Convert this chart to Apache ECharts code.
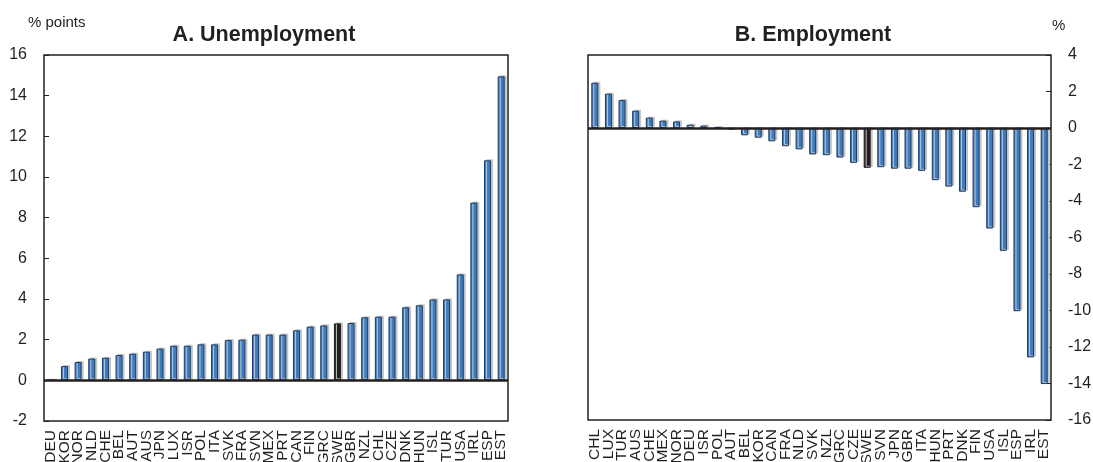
<!DOCTYPE html>
<html>
<head>
<meta charset="utf-8">
<script src="https://cdn.jsdelivr.net/npm/echarts@6/dist/echarts.min.js"></script>
<style>
html,body{margin:0;padding:0;background:#fff;}
#c{width:1093px;height:462px;}
</style>
</head>
<body>
<div id="c"></div>
<script>
const catA = ['DEU','KOR','NOR','NLD','CHE','BEL','AUT','AUS','JPN','LUX','ISR','POL','ITA','SVK','FRA','SVN','MEX','PRT','CAN','FIN','GRC','SWE','GBR','NZL','CHL','CZE','DNK','HUN','ISL','TUR','USA','IRL','ESP','EST'];
const valA = [0, 0.70, 0.90, 1.07, 1.11, 1.25, 1.31, 1.41, 1.56, 1.70, 1.70, 1.77, 1.77, 1.98, 2.00, 2.25, 2.25, 2.25, 2.46, 2.64, 2.70, 2.80, 2.82, 3.10, 3.13, 3.13, 3.59, 3.69, 3.98, 3.98, 5.21, 8.74, 10.82, 14.95];
const catB = ['CHL','LUX','TUR','AUS','CHE','MEX','NOR','DEU','ISR','POL','AUT','BEL','KOR','CAN','FRA','NLD','SVK','NZL','GRC','CZE','SWE','SVN','JPN','GBR','ITA','HUN','PRT','DNK','FIN','USA','ISL','ESP','IRL','EST'];
const valB = [2.48, 1.88, 1.53, 0.95, 0.57, 0.40, 0.36, 0.18, 0.13, 0.02, -0.09, -0.40, -0.53, -0.73, -1.00, -1.17, -1.45, -1.49, -1.62, -1.91, -2.18, -2.15, -2.23, -2.23, -2.35, -2.86, -3.21, -3.49, -4.34, -5.51, -6.73, -10.04, -12.57, -14.03];
const highlight = 'SWE';

const ink = '#231f20';
const blue = '#3b7dc4';
const fontFam = 'Liberation Sans, Arial, sans-serif';

function barData(cats, vals){
  return vals.map((v,i)=> cats[i]===highlight
    ? {value:v, itemStyle:{color:ink, borderColor:ink}}
    : v);
}

function xAx(gi, cats){
  return {
    type:'category', gridIndex:gi, data:cats,
    axisLine:{show:false}, axisTick:{show:false}, splitLine:{show:false},
    axisLabel:{interval:0, rotate:90, fontSize:15.5, color:ink, margin:9, fontFamily:fontFam}
  };
}
function yAx(gi, min, max, pos){
  return {
    type:'value', gridIndex:gi, min:min, max:max, interval:2, position:pos,
    axisLine:{show:false},
    axisTick:{show:true, inside:true, length:5, lineStyle:{color:ink, width:1}},
    splitLine:{show:false},
    axisLabel:{fontSize:16, color:ink, margin:17, fontFamily:fontFam}
  };
}
function barSeries(gi, cats, vals){
  return {
    type:'bar', xAxisIndex:gi, yAxisIndex:gi,
    data:barData(cats, vals), barWidth:7,
    itemStyle:{color:blue, borderColor:'#1f3c60', borderWidth:1,
      shadowColor:'#c4c4c4', shadowOffsetX:2, shadowOffsetY:-1, shadowBlur:0},
    markLine:{silent:true, symbol:['none','none'], label:{show:false},
      lineStyle:{color:ink, width:2.5, type:'solid'}, data:[{yAxis:0}]},
    animation:false
  };
}

const chart = echarts.init(document.getElementById('c'), null, {renderer:'canvas'});
chart.setOption({
  animation:false,
  backgroundColor:'#fff',
  textStyle:{fontFamily:fontFam},
  title:[
    {text:'A. Unemployment', left:259, top:19, textAlign:'center',
     textStyle:{fontSize:21.5, fontWeight:'bold', color:ink, fontFamily:fontFam}},
    {text:'B. Employment', left:808, top:19, textAlign:'center',
     textStyle:{fontSize:21.5, fontWeight:'bold', color:ink, fontFamily:fontFam}},
    {text:'% points', left:23, top:10,
     textStyle:{fontSize:15, fontWeight:'normal', color:ink, fontFamily:fontFam}},
    {text:'%', left:1047, top:13,
     textStyle:{fontSize:15, fontWeight:'normal', color:ink, fontFamily:fontFam}}
  ],
  grid:[
    {left:44, right:585, top:55, bottom:41, outerBoundsMode:'none', containLabel:false, show:true, borderColor:ink, borderWidth:1.5, backgroundColor:'transparent'},
    {left:588, right:42, top:55, bottom:42, outerBoundsMode:'none', containLabel:false, show:true, borderColor:ink, borderWidth:1.5, backgroundColor:'transparent'}
  ],
  xAxis:[xAx(0,catA), xAx(1,catB)],
  yAxis:[yAx(0,-2,16,'left'), yAx(1,-16,4,'right')],
  series:[barSeries(0,catA,valA), barSeries(1,catB,valB)]
});
</script>
</body>
</html>
